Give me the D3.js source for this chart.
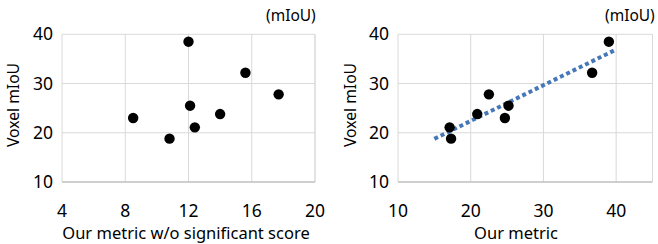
<!DOCTYPE html>
<html>
<head>
<meta charset="utf-8">
<script src="https://cdn.jsdelivr.net/npm/d3@7"></script>
<style>
  body { margin: 0; background: #fff; }
  text { font-family: "Noto Sans", sans-serif; fill: #000; }
</style>
</head>
<body>
<div id="chart"></div>
<script>
// voxel mIoU, same for both panels
const voxelMiou = [23.0, 18.8, 38.5, 25.5, 21.1, 23.8, 32.2, 27.8];
// x values, left panel (w/o significant score)
const metricNoSig = [8.5, 10.8, 12.0, 12.1, 12.4, 14.0, 15.6, 17.7];
// x values, right panel (our metric)
const metricOurs = [24.7, 17.3, 39.0, 25.2, 17.1, 20.9, 36.7, 22.5];

const yTicks = [10, 20, 30, 40];
const xTicksLeft = [4, 8, 12, 16, 20];
const xTicksRight = [10, 20, 30, 40];
const trendRange = [15, 40];

const W = 658, H = 244;
const svg = d3.select("#chart").append("svg")
    .attr("width", W).attr("height", H);

function panel(opts) {
    const x = d3.scaleLinear().domain(opts.xDomain).range(opts.xRange);
    const y = d3.scaleLinear().domain([10, 40]).range([182, 34.3]);
    const g = svg.append("g");

    // vertical gridlines
    g.selectAll(".vg")
        .data(opts.xTicks.concat(opts.xDomain[1]))
        .join("line")
        .attr("x1", d => x(d)).attr("x2", d => x(d))
        .attr("y1", y(40)).attr("y2", y(10))
        .attr("stroke", "#d9d9d9").attr("stroke-width", 1);

    // horizontal gridlines
    g.selectAll(".hg")
        .data(yTicks)
        .join("line")
        .attr("x1", x.range()[0]).attr("x2", x.range()[1])
        .attr("y1", d => y(d)).attr("y2", d => y(d))
        .attr("stroke", d => d === 10 ? "#bfbfbf" : "#d9d9d9")
        .attr("stroke-width", d => d === 10 ? 1.3 : 1);

    // y tick labels
    g.selectAll(".yt")
        .data(yTicks)
        .join("text")
        .attr("x", x.range()[0] - 9)
        .attr("y", d => y(d))
        .attr("dy", "0.35em")
        .attr("text-anchor", "end")
        .style("font-size", "17.5px")
        .text(d => d);

    // x tick labels
    g.selectAll(".xt")
        .data(opts.xTicks)
        .join("text")
        .attr("x", d => x(d))
        .attr("y", 211)
        .attr("dy", "0.35em")
        .attr("text-anchor", "middle")
        .style("font-size", "17.5px")
        .text(d => d);

    // axis titles
    g.append("text")
        .attr("x", opts.xTitleX)
        .attr("y", 233).attr("dy", "0.35em")
        .attr("text-anchor", "middle")
        .style("font-size", "16.5px")
        .text(opts.xTitle);

    g.append("text")
        .attr("transform", `translate(${opts.yTitleX},105) rotate(-90)`)
        .attr("dy", "0.35em")
        .attr("text-anchor", "middle")
        .style("font-size", "15.7px")
        .text("Voxel mIoU");

    g.append("text")
        .attr("x", opts.unitX)
        .attr("y", 16).attr("dy", "0.35em")
        .attr("text-anchor", "start")
        .style("font-size", "15.5px")
        .text("(mIoU)");

    const pts = opts.xs.map((v, i) => ({ x: v, y: voxelMiou[i] }));

    if (opts.trend) {
        const mx = d3.mean(pts, d => d.x), my = d3.mean(pts, d => d.y);
        const sxy = d3.sum(pts, d => (d.x - mx) * (d.y - my));
        const sxx = d3.sum(pts, d => (d.x - mx) * (d.x - mx));
        const b = sxy / sxx, a = my - b * mx;
        g.append("path")
            .datum(trendRange.map(v => ({ x: v, y: a + b * v })))
            .attr("fill", "none")
            .attr("stroke", "#4677b8")
            .attr("stroke-width", 4)
            .attr("stroke-dasharray", "4 3")
            .attr("d", d3.line().x(d => x(d.x)).y(d => y(d.y)));
    }

    g.selectAll(".dot")
        .data(pts)
        .join("circle")
        .attr("cx", d => x(d.x))
        .attr("cy", d => y(d.y))
        .attr("r", 5.2)
        .attr("fill", "#000");
}

panel({
    xDomain: [4, 20], xRange: [62, 315], xTicks: xTicksLeft,
    xs: metricNoSig, xTitle: "Our metric w/o significant score",
    xTitleX: 186, yTitleX: 13, unitX: 266, trend: false
});

panel({
    xDomain: [10, 45], xRange: [398, 652.5], xTicks: xTicksRight,
    xs: metricOurs, xTitle: "Our metric",
    xTitleX: 516, yTitleX: 350, unitX: 605, trend: true
});
</script>
</body>
</html>
